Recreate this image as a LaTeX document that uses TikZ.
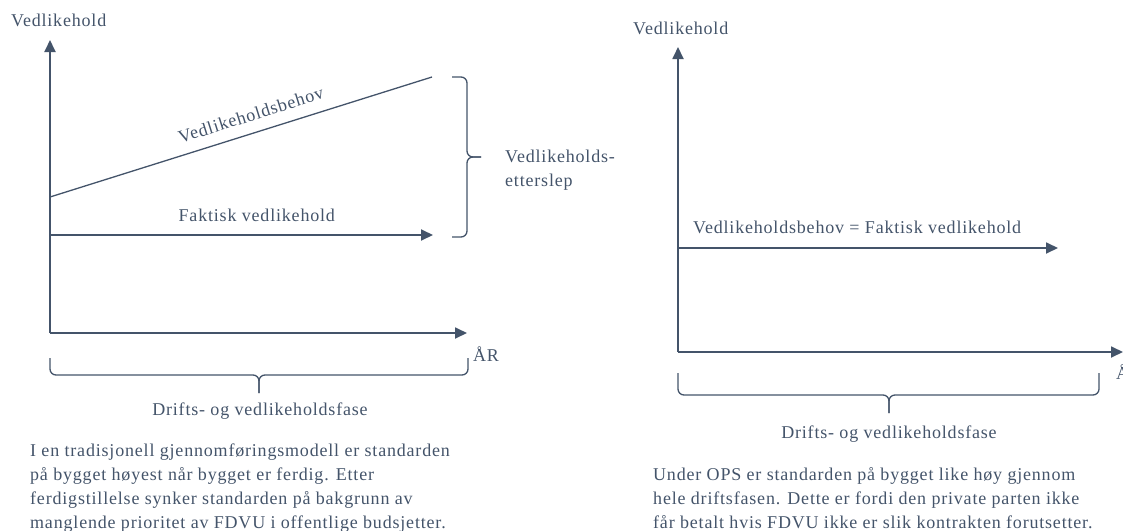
\documentclass[tikz,border=0pt]{standalone}
\usepackage{fontspec}
\setmainfont[LetterSpace=4.5]{Liberation Serif}
\usetikzlibrary{arrows.meta}
\definecolor{slate}{HTML}{44546A}
\tikzset{
  axis/.style={draw=slate, line width=1.8pt, -{Triangle[length=12pt,width=11pt]}},
  curve/.style={draw=slate, line width=1.3pt},
  bracepart/.style={draw=slate, line width=1.3pt, rounded corners=6pt},
  lbl/.style={text=slate, font=\fontsize{18}{24}\selectfont, inner sep=0pt},
  para/.style={text=slate, font=\fontsize{18}{24}\selectfont, inner sep=0pt, align=left, anchor=north west},
}
\begin{document}
\begin{tikzpicture}[x=1pt, y=-1pt]
\useasboundingbox (0,0) rectangle (1123,530);

% ---------- left panel: traditional model ----------
\coordinate (LO) at (50,333);
\coordinate (LY) at (50,40);
\coordinate (LX) at (467,333);
\draw[axis] (LO) -- (LY);
\draw[axis] (LO) -- (LX);
\node[lbl, anchor=base west] (lytitle) at (11,26) {Vedlikehold};
\node[lbl, anchor=base west] (lxtitle) at (473,361) {ÅR};

\coordinate (B0) at (50,197);
\coordinate (B1) at (432,77);
\draw[curve] (B0) -- node[lbl, sloped, above=11pt, pos=0.54] (behov) {Vedlikeholdsbehov} (B1);

\coordinate (F0) at (50,235);
\coordinate (F1) at (433,235);
\draw[axis] (F0) -- node[lbl, above=12pt, pos=0.54] (faktisk) {Faktisk vedlikehold} (F1);

% brace spanning the backlog
\draw[bracepart] (452,77) -- (467,77) -- (467,157) -- (481,157);
\draw[bracepart] (452,237) -- (467,237) -- (467,157) -- (481,157);
\node[lbl, anchor=base west, align=left] (etterslep) at (505,162) {Vedlikeholds-};
\node[lbl, anchor=base west] (etterslep2) at (505,186) {etterslep};

% phase brace
\draw[bracepart] (50,358) -- (50,375) -- (259,375) -- (259,393);
\draw[bracepart] (468,358) -- (468,375) -- (259,375) -- (259,393);
\node[lbl, anchor=base] (lphase) at (260,415) {Drifts- og vedlikeholdsfase};

\node[para] (ltext) at (30,444) {I en tradisjonell gjennomføringsmodell er standarden\\
på bygget høyest når bygget er ferdig. Etter\\
ferdigstillelse synker standarden på bakgrunn av\\
manglende prioritet av FDVU i offentlige budsjetter.};

% ---------- right panel: OPS ----------
\coordinate (RO) at (678,352);
\coordinate (RY) at (678,47);
\coordinate (RX) at (1123,352);
\draw[axis] (RO) -- (RY);
\draw[axis] (RO) -- (RX);
\node[lbl, anchor=base west] (rytitle) at (633,34) {Vedlikehold};
\node[lbl, anchor=base west] (rxtitle) at (1116,379) {ÅR};

\coordinate (R0) at (678,248);
\coordinate (R1) at (1058,248);
\draw[axis] (R0) -- (R1);
\node[lbl, anchor=base west] (lik) at (693,233) {Vedlikeholdsbehov = Faktisk vedlikehold};

\draw[bracepart] (678,373) -- (678,395) -- (889,395) -- (889,413);
\draw[bracepart] (1099,373) -- (1099,395) -- (889,395) -- (889,413);
\node[lbl, anchor=base] (rphase) at (889,438) {Drifts- og vedlikeholdsfase};

\node[para] (rtext) at (653,467) {Under OPS er standarden på bygget like høy gjennom\\
hele driftsfasen. Dette er fordi den private parten ikke\\
får betalt hvis FDVU ikke er slik kontrakten forutsetter.};
\end{tikzpicture}
\end{document}
